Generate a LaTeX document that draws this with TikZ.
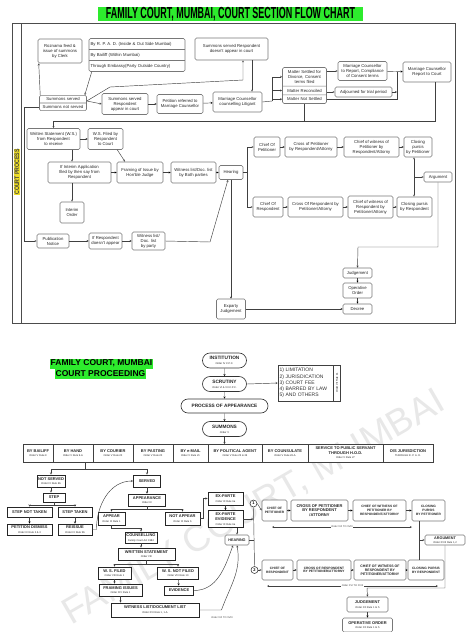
\documentclass[tikz,border=0pt]{standalone}
\usepackage{fontspec}
\setmainfont{Liberation Sans}
\usepackage{graphicx}
\usetikzlibrary{positioning}
\usetikzlibrary{shapes.multipart}
\usetikzlibrary{shapes.misc}

\definecolor{titlegreen}{RGB}{45,235,45}
\definecolor{procyellow}{RGB}{238,222,40}
\definecolor{boxgray}{RGB}{120,120,120}
\newcommand{\ordtxt}[1]{{\fontsize{5.2}{6}\selectfont\mdseries #1}}

\begin{document}
\begin{tikzpicture}[x=2pt,y=-2pt
    ,flow/.style={draw=boxgray,rounded corners=3pt,fill=white,line width=1.1pt,align=center,inner sep=1pt,font=\fontsize{8.5}{10}\selectfont,text=black!85}
    ,pill/.style={rounded rectangle,draw=black!80,line width=1.3pt,fill=white,align=center,inner sep=1pt,font=\fontsize{9.5}{10.5}\selectfont\bfseries,text=black!85}
    ,sq/.style={draw=black!85,line width=1.8pt,fill=white,align=center,inner sep=0.5pt,font=\fontsize{8}{9.5}\selectfont\bfseries,text=black!85}
    ,svc/.style={draw=black!75,line width=1.3pt,fill=white,align=center,inner sep=1pt,outer sep=0pt,font=\fontsize{8}{9}\selectfont\bfseries,text=black!85}
    ,rb/.style={draw=boxgray,rounded corners=3pt,line width=1.3pt,fill=white,align=center,inner sep=1pt,font=\fontsize{6.5}{7.5}\selectfont\bfseries,text=black!85}
    ,sz/.style 2 args={minimum width=#1*2pt,minimum height=#2*2pt}
    ,arr/.style={-stealth,line width=0.9pt,draw=black!75}
    ,arr2/.style={stealth-stealth,line width=0.9pt,draw=black!75}
    ,line/.style={line width=0.9pt,draw=black!75}
    ,note/.style={font=\fontsize{5}{6}\selectfont,text=black!75,inner sep=1pt}
    ]
\useasboundingbox[fill=white] (0,0) rectangle (474,632);

% watermark
\node[rotate=30,text=black!9,font=\fontsize{74}{74}\selectfont] (wmark) at (254,508) {FAMILY COURT, MUMBAI};

% ---------- flow chart ----------
\node[fill=titlegreen,inner sep=0pt,sz={265}{14}] (title) at (230.5,14)
  {\scalebox{0.56}[1]{\fontsize{32}{32}\selectfont\bfseries FAMILY COURT, MUMBAI, COURT SECTION FLOW CHART}};
\draw[line width=1.2pt,draw=black!70] (12,23) rectangle (455,323);
\draw[line width=1.2pt,draw=black!70] (21,23) -- (21,323);
\node[rotate=90,fill=procyellow,inner sep=1pt,font=\fontsize{13}{13}\selectfont\bfseries,text=black!75] (cproc) at (17,172)
  {\scalebox{0.8}[1]{COURT PROCESS}};

\node[flow,sz={44}{24}] (roz) at (60,51) {Roznama feed \&\\issue of summons\\by Clerk};
\node[flow,rectangle split,rectangle split parts=3,text width=186pt,align=left,inner xsep=3pt,inner ysep=6.5pt] (tri) at (137,55)
  {By R. P. A. D. (Inside \& Out Side Mumbai)\nodepart{two}By Bailiff (Within Mumbai)\nodepart{three}Through Embassy(Party Outside Country)};
\node[flow,sz={73}{22}] (noapp) at (231.5,49) {Summons served Respondent\\doesn't appear  in court};
\node[flow,rectangle split,rectangle split parts=2,text width=92pt,inner ysep=4pt] (summ) at (63,103)
  {Summons served\nodepart{two}Summons not served};
\node[flow,sz={46}{21}] (app) at (125,104) {Summons served\\Respondent\\appear  in court};
\node[flow,sz={46}{19}] (petref) at (180,104) {Petition referred to\\Marriage Counsellor};
\node[flow,sz={49}{20}] (mcoun) at (237.5,102) {Marriage Counsellor\\counselling Litigant};
\node[flow,rectangle split,rectangle split parts=3,text width=86pt,inner ysep=5pt] (matter) at (304.5,85.5)
  {Matter Settled for\\Divorce, Consent\\terms filed\nodepart{two}Matter Reconciled\nodepart{three}Matter Not Settled};
\node[flow,sz={49}{19}] (mcrep) at (362.5,71) {Marriage Counsellor\\to Report, Compliance\\of Consent terms};
\node[flow,sz={57}{10}] (adj) at (363.5,92) {Adjourned for trial period};
\node[flow,sz={48}{20}] (mcourt) at (427,72) {Marriage Counsellor\\Report to Court};

\node[flow,sz={53}{21}] (ws) at (53.5,139) {Written Statement (W.S.)\\from Respondent\\to receive};
\node[flow,sz={35}{21}] (wsf) at (105.5,139) {W.S. Filed by\\Respondent\\to Court};
\node[flow,sz={63}{21}] (interim) at (79.5,172.5) {If Interim Application\\filed by then say from\\Respondent};
\node[flow,sz={24}{21}] (iorder) at (72,212.5) {Interim\\Order};
\node[flow,sz={46}{21}] (framing) at (140,172.5) {Framing of Issue by\\Hon'ble Judge};
\node[flow,sz={45}{21}] (witb) at (193.5,172.5) {Witness list/Doc. list\\by Both parties};
\node[flow,sz={24}{14}] (hear) at (231,172.5) {Hearing};

\node[flow,sz={26}{20}] (cpet) at (267,147) {Chief Of\\Petitioner};
\node[flow,sz={52}{20}] (xpet) at (311,147) {Cross of Petitioner\\by Respondent/Attorny};
\node[flow,sz={55}{20}] (cwpet) at (371.5,147) {Chief of witness of\\Petitioner by\\Respondent/Attorny};
\node[flow,sz={28}{20}] (clpet) at (418,147) {Closing\\pursis\\by Petitioner};
\node[flow,sz={30}{20}] (cres) at (268,207) {Chief Of\\Respondent};
\node[flow,sz={55}{20}] (xres) at (315.5,207) {Cross Of Respondent by\\Petitioner/Attorny};
\node[flow,sz={45}{22}] (cwres) at (370.5,207) {Chief of witness of\\Respondent by\\Petitioner/Attorny};
\node[flow,sz={35}{20}] (clres) at (414.5,207) {Closing pursis\\by Respondent};
\node[flow,sz={28}{10}] (arg) at (438,177) {Argument};

\node[flow,sz={29}{10}] (judg) at (357.5,273) {Judgement};
\node[flow,sz={29}{15}] (oporder) at (357.5,290.5) {Operative\\Order};
\node[flow,sz={29}{10}] (decree) at (357.5,309) {Decree};
\node[flow,sz={29}{20}] (expj) at (231,309) {Exparty\\Judgement};

\node[flow,sz={32}{14}] (pub) at (53,241) {Publication\\Notice};
\node[flow,sz={33}{16}] (ifr) at (105.5,241) {If Respondent\\doesn't appear};
\node[flow,sz={33}{18}] (witp) at (148.5,241) {Witness list/\\Doc. list\\by  party};

\coordinate (jm) at (272,101);
\coordinate (jr) at (397,72);
\coordinate (jw) at (435,121);
\coordinate (ja) at (110,87);
\coordinate (jb) at (243,80);
\coordinate (jh) at (247,172.5);
\coordinate (jg) at (414,177);
\coordinate (jj) at (358,247);
\coordinate (jp) at (210,242);

\path[arr]
    (app) edge (petref)
    (petref) edge (mcoun)
    (mcrep) edge (mcourt)
    (ws) edge (wsf)
    (interim) edge (framing)
    (framing) edge (witb)
    (witb) edge (hear)
    (cpet) edge (xpet)
    (xpet) edge (cwpet)
    (cwpet) edge (clpet)
    (cres) edge (xres)
    (xres) edge (cwres)
    (cwres) edge (clres)
    (judg) edge (oporder)
    (oporder) edge (decree)
    (expj) edge (decree)
    (pub) edge (ifr)
    (ifr) edge (witp)
    (hear) edge (expj)
    ;
\draw[arr] ([xshift=6pt]tri.south west) -- ([xshift=-4pt]summ.north east);
\draw[arr] ([xshift=2pt]summ.north west) -- ([xshift=2pt]roz.south west);
\draw[arr] ([yshift=4pt]summ.east) -- (app.west);
\draw[arr] ([yshift=4pt]summ.east) -- (ja) -- (jb) -- (jb |- noapp.south);
\draw[arr] ([xshift=41pt]noapp.south) -- ([xshift=41pt]noapp.south |- mcoun.north);
\draw[arr] ([yshift=-9pt]summ.west) -- ++(-15,0) |- (pub.west);
\draw[line] (mcoun.east) -- (jm);
\draw[arr] (jm) |- (matter.text west);
\draw[arr] (jm) |- (matter.two west);
\draw[arr] (jm) |- (matter.three west);
\draw[arr] (matter.east |- mcrep.west) -- (mcrep.west);
\draw[arr] (matter.east |- adj.west) -- (adj.west);
\draw[line] (matter.three east) -| (jr);
\draw[arr] (adj.east) -- (adj.east -| jr);
\draw[arr] (mcourt.south -| jw) -- (jw) -| (ws.north);
\draw[line] (matter.south) -- (matter.south |- jw);
\draw[arr] (ws.south -| iorder) -- (interim.north -| iorder);
\draw[arr] (interim.south -| iorder) -- (iorder.north);
\draw[arr] ([xshift=-12pt]wsf.south east) -- ([xshift=-30pt]framing.north);
\draw[line] (hear.east) -- (jh);
\draw[arr] (jh) |- (cpet.west);
\draw[arr] (jh) |- (cres.west);
\draw[arr2] (clpet.south -| jg) -- (clres.north -| jg);
\draw[arr] (jg) -- (arg.west);
\draw[arr] (arg.south) |- (jj) -- (judg.north);
\draw[arr] (witp.east) -- (jp) -- ([xshift=-6pt]hear.south);

% ---------- court proceeding ----------
\node[fill=titlegreen,inner sep=1pt,minimum height=20pt,font=\fontsize{17}{17}\selectfont\bfseries] (t2a) at (101.5,363.5) {FAMILY COURT, MUMBAI};
\node[fill=titlegreen,inner sep=1pt,minimum height=20pt,font=\fontsize{17}{17}\selectfont\bfseries] (t2b) at (100.5,373.5) {COURT PROCEEDING};

\node[pill,sz={45}{15}] (inst) at (224.5,360.5) {INSTITUTION\\\ordtxt{Order IV C.P.C.}};
\node[pill,sz={45}{15}] (scrut) at (224.5,384) {SCRUTINY\\\ordtxt{Order VI \& VII C.P.C.}};
\node[pill,sz={88}{14}] (proc) at (224.5,406) {PROCESS OF APPEARANCE};
\node[pill,sz={45}{15}] (summons) at (224.5,429) {SUMMONS\\\ordtxt{Order V}};
\node[draw=black!75,line width=1.1pt,align=left,text width=104pt,inner xsep=3pt,minimum height=72pt,font=\fontsize{10}{12.5}\selectfont,text=black!80] (limits) at (305.5,383)
  {1) LIMITATION\\2) JURISDICATION\\3) COURT FEE\\4) BARRED BY LAW\\5) AND OTHERS};
\node[draw=black!75,line width=1.1pt,rotate=90,anchor=north,minimum width=72pt,minimum height=14pt,inner sep=0pt,font=\fontsize{5}{6}\selectfont] (lside) at (limits.east) {Order VII Rule 11};

\node[svc,sz={30}{18}] (bailiff) at (38,453) {BY BAILIFF\\\ordtxt{Order V Rule 9}};
\node[svc,sz={40}{18},right=0pt of bailiff] (hand) {BY HAND\\\ordtxt{Order V Rule 9-A}};
\node[svc,sz={40}{18},right=0pt of hand] (courier) {BY COURIER\\\ordtxt{Order V Rule 20}};
\node[svc,sz={40}{18},right=0pt of courier] (pasting) {BY PASTING\\\ordtxt{Order V Rule 20}};
\node[svc,sz={35}{18},right=0pt of pasting] (email) {BY e-MAIL\\\ordtxt{Order V Rule 21}};
\node[svc,sz={54}{18},right=0pt of email] (polit) {BY POLITICAL AGENT\\\ordtxt{Order V Rule 25 \& 26}};
\node[svc,sz={46}{18},right=0pt of polit] (consul) {BY COUNSULATE\\\ordtxt{Order V Rule 26-A}};
\node[svc,sz={75}{18},right=0pt of consul] (public) {SERVICE TO PUBLIC SERVANT\\THROUGH H.O.D.\\\ordtxt{Order V Rule 27}};
\node[svc,sz={50}{18},right=0pt of public] (osjur) {O/S JURISDICTION\\\ordtxt{THROUGH R. P. A. D.}};

\node[sq,sz={28}{12}] (nots) at (51,481) {NOT SERVED\\\ordtxt{Order IX Rule 6b}};
\node[sq,sz={27}{12}] (served) at (147,481) {SERVED};
\node[sq,sz={22}{9}] (step) at (54,497.5) {STEP};
\node[sq,sz={45}{10}] (stepnot) at (29.5,512) {STEP NOT TAKEN};
\node[sq,sz={34}{10}] (stept) at (75,512) {STEP TAKEN};
\node[sq,sz={45}{11}] (dismiss) at (29.5,529.5) {PETITION DISMISS\\\ordtxt{Order IX Rule 2 \& 3}};
\node[sq,sz={34}{11}] (reissue) at (75,529.5) {REISSUE\\\ordtxt{Order IX Rule 5b}};
\node[sq,sz={37}{12}] (apprnc) at (147,500) {APPEARANCE\\\ordtxt{Order IX}};
\node[sq,sz={27}{13}] (appr) at (111.5,518.5) {APPEAR\\\ordtxt{Order IX Rule 1}};
\node[sq,sz={35}{13}] (nappr) at (182.5,518.5) {NOT APPEAR\\\ordtxt{Order IX Rule 6}};
\node[sq,sz={35}{13}] (exparte) at (225.5,498.5) {EX-PARTE\\\ordtxt{Order IX Rule 6a}};
\node[sq,sz={35}{17}] (expev) at (225.5,519) {EX-PARTE\\EVIDENCE\\\ordtxt{Order IX Rule 6a}};
\node[rb,sz={24}{10},font=\fontsize{7.5}{8}\selectfont\bfseries] (hear2) at (237,540) {HEARING};
\node[sq,sz={32}{11}] (counsel) at (141,537.5) {COUNSELLING\\\ordtxt{Family Court Act 1984}};
\node[sq,sz={57}{12}] (wstate) at (146.5,554) {WRITTEN STATEMENT\\\ordtxt{Order VIII}};
\node[sq,sz={33}{12}] (wsf2) at (114.5,573) {W. S. FILED\\\ordtxt{Order VIII Rule 1}};
\node[sq,sz={41}{12}] (wsnf) at (178,573) {W. S. NOT FILED\\\ordtxt{Order VIII Rule 10}};
\node[sq,sz={43}{12}] (fr2) at (120.5,590) {FRAMING ISSUES\\\ordtxt{Order XIV Rule 1}};
\node[sq,sz={29}{9}] (evid) at (179,590.5) {EVIDENCE};
\node[sq,sz={88}{14}] (wl) at (155,610) {WITNESS LIST/DOCUMENT LIST\\\ordtxt{Order XVI Rule 1, 1-A}};
\node[note] (ordbot) at (222,618) {Order XVI TO XVIII};

\node[circle,draw=black!80,line width=1.1pt,fill=white,inner sep=0pt,minimum size=14pt,font=\fontsize{8}{8}\selectfont\bfseries] (c1) at (253.5,503.5) {1};
\node[circle,draw=black!80,line width=1.1pt,fill=white,inner sep=0pt,minimum size=14pt,font=\fontsize{8}{8}\selectfont\bfseries] (c2) at (254.5,570) {2};
\node[rb,sz={25}{21}] (cpet2) at (274.5,510.5) {CHIEF OF\\PETITIONER};
\node[rb,sz={57}{21},font=\fontsize{8}{9}\selectfont\bfseries] (xpet2) at (319.5,510.5) {CROSS OF PETITIONER\\BY RESPONDENT\\/ATTORNY};
\node[rb,sz={53}{21}] (cwpet2) at (379.5,510.5) {CHIEF OF WITNESS OF\\PETITIONER BY\\RESPONDENT/ATTORNY};
\node[rb,sz={33}{21}] (clpet2) at (428.5,510.5) {CLOSING\\PURSIS\\BY PETITIONER};
\node[rb,sz={40}{10},font=\fontsize{7.5}{8}\selectfont\bfseries] (arg2) at (445,540) {ARGUMENT\\\ordtxt{Order XVIII Rule 1,2}};
\node[rb,sz={31}{20}] (cres2) at (277.5,570) {CHIEF OF\\RESPONDENT};
\node[rb,sz={54}{20}] (xres2) at (324,570) {CROSS OF RESPONDENT\\BY PETITIONER/ATTORNY};
\node[rb,sz={52}{20},font=\fontsize{7}{8}\selectfont\bfseries] (cwres2) at (380,570) {CHIEF OF WITNESS OF\\RESPONDENT BY\\PETITIONER/ATTORNY};
\node[rb,sz={36}{20}] (clres2) at (426,570) {CLOSING PURSIS\\BY RESPONDENT};
\node[rb,sz={41}{15},font=\fontsize{8}{9}\selectfont\bfseries] (judg2) at (367.5,604.5) {JUDGEMENT\\\ordtxt{Order XX Rule 1 to 5}};
\node[rb,sz={50}{14},font=\fontsize{8}{9}\selectfont\bfseries] (opord2) at (367.5,625) {OPERATIVE ORDER\\\ordtxt{Order XX Rule 1 to 5}};

\coordinate (js) at (85,469);
\coordinate (jst) at (54,505);
\coordinate (jap) at (147,509);
\coordinate (jws) at (146.5,564);
\coordinate (ja2) at (419,540);
\coordinate (jj2) at (367,588);
\coordinate (o1a) at (272,527);
\coordinate (o1b) at (412,527);
\coordinate (o2a) at (267,586);
\coordinate (o2b) at (438,586);

\path[arr]
    (inst) edge (scrut)
    (scrut) edge (proc)
    (proc) edge (summons)
    (stepnot) edge (dismiss)
    (stept) edge (reissue)
    (served) edge (apprnc)
    (exparte) edge (expev)
    (wsnf) edge (evid)
    (judg2) edge (opord2)
    (cpet2) edge (xpet2)
    (xpet2) edge (cwpet2)
    (cwpet2) edge (clpet2)
    (cres2) edge (xres2)
    (xres2) edge (cwres2)
    (cwres2) edge (clres2)
    ;
\draw[arr] (scrut.east) -- (limits.west);
\draw[arr] (summons.south) -- (summons.south |- polit.north);
\draw[line] (hand.south -| js) -- (js);
\draw[arr] (js) -| (nots.north);
\draw[arr] (js) -| (served.north);
\draw[arr] (nots.south) -- (nots.south |- step.north);
\draw[line] (step.south) -- (jst);
\draw[arr] (jst) -| (stepnot.north);
\draw[arr] (jst) -| (stept.north);
\draw[arr] (reissue.east) -- ++(4,0) to[out=90,in=180] (served.west);
\draw[line] (apprnc.south) -- (jap);
\draw[arr] (jap) -| (appr.north);
\draw[arr] (jap) -| (nappr.north);
\draw[arr] (nappr.east) -- ++(3,0) |- (exparte.west);
\draw[arr] (appr.south) -- ++(0,3) -| (counsel.north);
\draw[arr] (counsel.south) -- (counsel.south |- wstate.north);
\draw[line] (wstate.south) -- (jws);
\draw[arr] (jws) -| (wsf2.north);
\draw[arr] (jws) -| (wsnf.north);
\draw[arr] (wsf2.south) -- (wsf2.south |- fr2.north);
\draw[arr] (fr2.south) -- (fr2.south |- wl.north);
\draw[arr] (evid.east) to[out=0,in=-110] ([xshift=-8pt]hear2.south);
\draw[arr] (wl.east) -- ++(22,0) to[out=70,in=-80] (hear2.south);
\draw[arr] (expev.south -| hear2.north) -- (hear2.north);
\draw[arr] (expev.east) -- (expev.east -| c1);
\draw[line] (hear2.east) -- (hear2.east -| c1);
\draw[line] (c1.south) -- (c2.north);
\draw[arr] (c1.east) -- (cpet2.west);
\draw[arr] (c2.east) -- (cres2.west);
\draw[arr2] (o1a) -- node[note,fill=white] {Order XVI TO XVIII} (o1b);
\draw[arr2] (o2a) -- node[note,fill=white] {Order XVI TO XVIII} (o2b);
\draw[line] (clpet2.south -| ja2) -- (clres2.north -| ja2);
\draw[arr] (ja2) -- (arg2.west);
\draw[arr] (arg2.south) |- (jj2) -- (judg2.north);
\end{tikzpicture}
\end{document}
